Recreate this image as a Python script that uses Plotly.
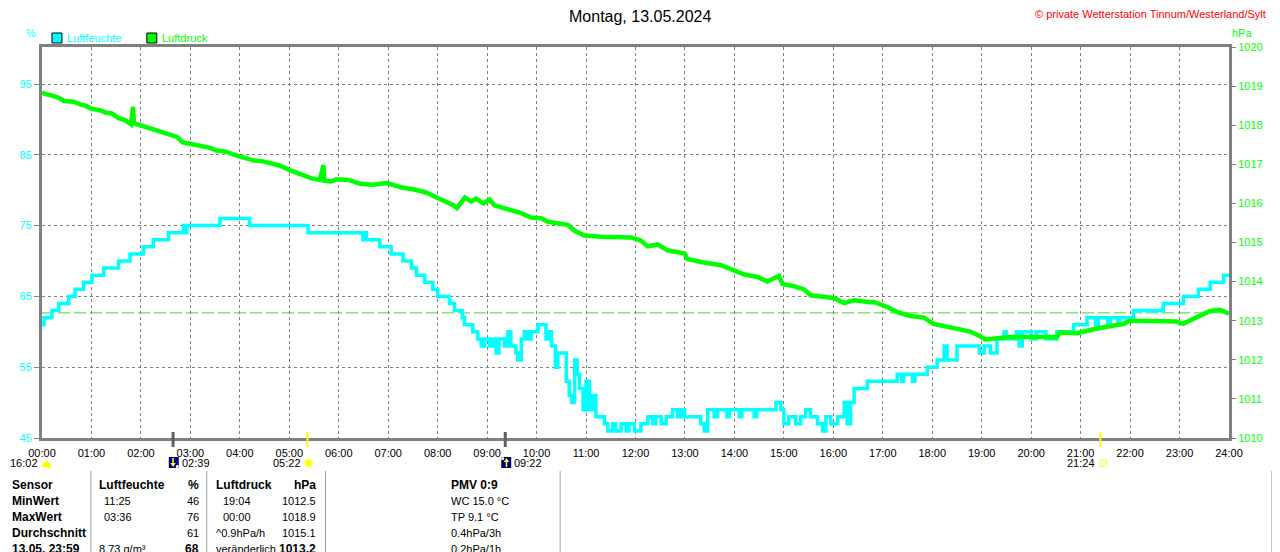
import plotly.graph_objects as go

# Luftfeuchte (%) - Zeit in Stunden, Treppenwerte
feuchte_zeit = [0.00, 0.04, 0.20, 0.34, 0.54, 0.67, 0.84, 1.01, 1.25, 1.55, 1.78, 2.05, 2.25, 2.56,
                2.86, 2.89, 2.93, 3.60, 4.20, 5.38, 6.49, 6.52, 6.56, 6.83, 7.06, 7.30, 7.47, 7.57,
                7.74, 7.90, 8.00, 8.24, 8.34, 8.50, 8.54, 8.71, 8.81, 8.88, 8.95, 9.05, 9.12, 9.18,
                9.24, 9.35, 9.42, 9.48, 9.58, 9.62, 9.69, 9.75, 9.82, 9.89, 10.03, 10.19, 10.26,
                10.30, 10.38, 10.43, 10.60, 10.66, 10.71, 10.77, 10.82, 10.87, 10.94, 11.00, 11.07,
                11.14, 11.20, 11.37, 11.44, 11.54, 11.60, 11.71, 11.81, 11.87, 11.98, 12.11, 12.25,
                12.35, 12.41, 12.52, 12.62, 12.75, 12.85, 12.92, 12.99, 13.32, 13.39, 13.46, 13.59,
                13.66, 13.85, 13.90, 14.10, 14.15, 14.40, 14.45, 14.84, 14.94, 15.00, 15.10, 15.24,
                15.34, 15.44, 15.54, 15.68, 15.78, 15.85, 15.95, 16.09, 16.22, 16.28, 16.35, 16.42,
                16.69, 17.29, 17.38, 17.42, 17.60, 17.65, 17.90, 18.10, 18.24, 18.30, 18.50, 18.95,
                19.05, 19.18, 19.31, 19.45, 19.50, 19.70, 19.76, 19.82, 20.00, 20.10, 20.30, 20.52,
                20.86, 21.13, 21.30, 21.36, 21.55, 21.60, 21.75, 21.80, 22.07, 22.67, 23.08, 23.38,
                23.62, 23.89, 24.00]
feuchte_wert = [61, 62, 63, 64, 65, 66, 67, 68, 69, 70, 71, 72, 73, 74,
                75, 74, 75, 76, 75, 74, 73, 74, 73, 72, 71, 70, 69, 68,
                67, 66, 65, 64, 63, 62, 61, 60, 59, 58, 59, 58, 59, 57,
                59, 58, 60, 58, 57, 56, 59, 60, 59, 60, 61, 59, 60,
                58, 55, 57, 53, 51, 50, 56, 54, 52, 49, 53, 49,
                51, 48, 47, 46, 47, 46, 47, 46, 47, 46, 47, 48,
                47, 48, 47, 48, 49, 48, 49, 48, 47, 46, 49, 48,
                49, 48, 49, 48, 49, 48, 49, 50, 49, 47, 48, 47,
                48, 49, 48, 47, 46, 48, 47, 48, 50, 47, 50, 52,
                53, 54, 53, 54, 53, 54, 55, 56, 58, 56, 58, 57,
                58, 57, 59, 60, 59, 60, 58, 60, 59, 60, 59, 60,
                61, 62, 61, 62, 61, 62, 61, 62, 63, 64, 65, 66,
                67, 68, 68]

# Luftdruck (hPa)
druck_zeit = [0.00, 0.05, 0.17, 0.34, 0.45, 0.64, 0.80, 0.88, 1.00, 1.18, 1.30, 1.41, 1.55, 1.68,
              1.80, 1.84, 1.86, 1.98, 2.15, 2.25, 2.40, 2.55, 2.73, 2.85, 2.99, 3.10, 3.26, 3.40,
              3.53, 3.70, 3.94, 4.10, 4.27, 4.45, 4.61, 4.80, 5.01, 5.15, 5.28, 5.45, 5.62, 5.69,
              5.71, 5.85, 5.95, 6.20, 6.43, 6.70, 6.96, 7.15, 7.30, 7.50, 7.77, 8.00, 8.15, 8.31,
              8.39, 8.55, 8.68, 8.78, 8.92, 9.05, 9.15, 9.42, 9.69, 9.89, 10.09, 10.23, 10.63,
              10.77, 10.97, 11.30, 11.91, 12.11, 12.25, 12.45, 12.65, 12.99, 13.05, 13.32, 13.73,
              13.93, 14.20, 14.47, 14.67, 14.90, 14.97, 15.21, 15.41, 15.54, 16.01, 16.22, 16.42,
              16.75, 16.82, 17.09, 17.29, 17.56, 17.83, 18.03, 18.44, 18.77, 18.97, 19.07, 19.58,
              20.52, 20.59, 20.93, 21.33, 21.87, 22.00, 22.34, 22.94, 23.07, 23.35, 23.62, 23.82,
              24.00]
druck_wert = [1018.85, 1018.80, 1018.77, 1018.70, 1018.62, 1018.60, 1018.52, 1018.50, 1018.42,
              1018.38, 1018.32, 1018.30, 1018.18, 1018.13, 1018.02, 1018.47, 1018.05, 1018.00,
              1017.95, 1017.90, 1017.83, 1017.78, 1017.70, 1017.56, 1017.53, 1017.50, 1017.45,
              1017.42, 1017.35, 1017.33, 1017.22, 1017.15, 1017.10, 1017.08, 1017.02, 1016.97,
              1016.85, 1016.78, 1016.72, 1016.64, 1016.60, 1016.98, 1016.58, 1016.56, 1016.62,
              1016.60, 1016.50, 1016.48, 1016.52, 1016.44, 1016.40, 1016.36, 1016.28, 1016.14,
              1016.05, 1015.96, 1015.88, 1016.15, 1016.05, 1016.12, 1016.00, 1016.10, 1015.95,
              1015.85, 1015.75, 1015.64, 1015.62, 1015.53, 1015.45, 1015.30, 1015.18, 1015.15,
              1015.13, 1015.05, 1014.90, 1014.95, 1014.80, 1014.72, 1014.58, 1014.50, 1014.42,
              1014.32, 1014.18, 1014.12, 1014.00, 1014.15, 1013.94, 1013.88, 1013.80, 1013.65,
              1013.58, 1013.45, 1013.52, 1013.47, 1013.48, 1013.35, 1013.22, 1013.12, 1013.08,
              1012.92, 1012.82, 1012.72, 1012.60, 1012.52, 1012.58, 1012.58, 1012.70, 1012.68,
              1012.80, 1012.92, 1013.00, 1013.00, 1012.98, 1012.92, 1013.08, 1013.25, 1013.28,
              1013.18]
druck_aktuell = 1013.2

stunden = list(range(25))
stunden_text = ["%02d:00" % h for h in stunden]
feuchte_ticks = [45, 55, 65, 75, 85, 95]
druck_ticks = list(range(1010, 1021))

# Sonne/Mond: Zeit in Stunden, Farbe der Marke
ereignis_zeit = [2 + 39 / 60, 5 + 22 / 60, 9 + 22 / 60, 21 + 24 / 60]
ereignis_farbe = ["#606060", "#FFFF00", "#606060", "#FFFF00"]

# Tabelle unten
tab_sensor = ["Sensor", "MinWert", "MaxWert", "Durchschnitt", "13.05. 23:59"]
tab_f_zeit = ["Luftfeuchte", "11:25", "03:36", "", "8.73 g/m³"]
tab_f_wert = ["%", "46", "76", "61", "68"]
tab_d_zeit = ["Luftdruck", "19:04", "00:00", "^0.9hPa/h", "veränderlich"]
tab_d_wert = ["hPa", "1012.5", "1018.9", "1015.1", "1013.2"]
tab_pmv = ["PMV 0:9", "WC 15.0 °C", "TP 9.1 °C", "0.4hPa/3h", "0.2hPa/1h"]

# die Seite hat 8px Rand, daher Figur um 8px kleiner
RAND = 8
W, H = 1280 - RAND, 552 - RAND
L, R, T, B = 40, 1229, 47, 438   # Plotfläche in Seitenpixeln
FONT = "Liberation Sans"
GRAU = "#808080"


def px(x):
    return (x - L) / (R - L)


def py(y):
    return (B - y) / (B - T)


fig = go.Figure()

fig.add_trace(go.Scatter(x=druck_zeit, y=druck_wert, yaxis="y2", mode="lines",
                         line=dict(color="#00FF00", width=4.5), name="Luftdruck"))
fig.add_trace(go.Scatter(x=feuchte_zeit, y=feuchte_wert, mode="lines",
                         line=dict(color="#00FFFF", width=3.5, shape="hv"), name="Luftfeuchte"))

shapes = []
# aktueller Luftdruck
shapes.append(dict(type="line", xref="paper", yref="y2", x0=0, x1=1, y0=druck_aktuell, y1=druck_aktuell,
                   line=dict(color="#33DD33", width=1, dash="12px,4px"), layer="below"))
# Sonne/Mond Marken
for t, c in zip(ereignis_zeit, ereignis_farbe):
    shapes.append(dict(type="line", xref="x", yref="paper", x0=t, x1=t, y0=py(432), y1=py(447),
                       line=dict(color=c, width=3 if c != "#FFFF00" else 2)))


def pfad(punkte):
    return "M " + " L ".join("%f,%f" % (px(a), py(b)) for a, b in punkte) + " Z"


# Icons unter der Achse
shapes.append(dict(type="path", xref="paper", yref="paper",
                   path="M %f,%f Q %f,%f %f,%f Z" % (px(40), py(467), px(44.5), py(455), px(49), py(467)),
                   fillcolor="#FFFF00", line=dict(color="#FFFF00", width=1)))
for x0 in [167, 500]:
    shapes.append(dict(type="rect", xref="paper", yref="paper", x0=px(x0), x1=px(x0 + 10),
                       y0=py(468), y1=py(457), fillcolor="#000080", line=dict(width=0)))
# Mond untergang (Pfeil runter) / aufgang (Pfeil hoch)
shapes.append(dict(type="path", xref="paper", yref="paper",
                   path=pfad([(170.5, 458), (172, 458), (172, 463), (174, 463), (171.3, 467), (168.5, 463), (170.5, 463)]),
                   fillcolor="#FFFF00", line=dict(width=0)))
shapes.append(dict(type="circle", xref="paper", yref="paper", x0=px(174), x1=px(177), y0=py(468), y1=py(465),
                   fillcolor="white", line=dict(width=0)))
shapes.append(dict(type="path", xref="paper", yref="paper",
                   path=pfad([(504.5, 467), (506, 467), (506, 462), (508, 462), (505.3, 458), (502.5, 462), (504.5, 462)]),
                   fillcolor="#FFFF00", line=dict(width=0)))
shapes.append(dict(type="circle", xref="paper", yref="paper", x0=px(500), x1=px(503), y0=py(460), y1=py(457),
                   fillcolor="white", line=dict(width=0)))
shapes.append(dict(type="circle", xref="paper", yref="paper", x0=px(303), x1=px(311), y0=py(467), y1=py(459),
                   fillcolor="#FFFF00", line=dict(color="#FFFF99", width=2)))
shapes.append(dict(type="rect", xref="paper", yref="paper", x0=px(1100), x1=px(1106), y0=py(466), y1=py(460),
                   line=dict(color="#FFFF00", width=1)))

# Legende
for x0, c in [(50, "#00FFFF"), (145, "#00FF00")]:
    shapes.append(dict(type="rect", xref="paper", yref="paper", x0=px(x0), x1=px(x0 + 10),
                       y0=py(43), y1=py(33), fillcolor=c, line=dict(color="black", width=1)))

# Tabellen-Trennlinien
for x0 in [89, 205, 324, 559, 1272]:
    shapes.append(dict(type="line", xref="paper", yref="paper", x0=px(x0), x1=px(x0),
                       y0=py(471), y1=py(552), line=dict(color="#A0A0A0", width=1)))

# Rest des Nachbardiagramms am rechten Rand
shapes.append(dict(type="line", xref="paper", yref="paper", x0=px(1272), x1=px(1281),
                   y0=py(47), y1=py(47), line=dict(color=GRAU, width=3)))
for y0 in [117, 256, 393, 533]:
    shapes.append(dict(type="line", xref="paper", yref="paper", x0=px(1275), x1=px(1280),
                       y0=py(y0), y1=py(y0), line=dict(color=GRAU, width=1, dash="2px,2px")))
shapes.append(dict(type="path", xref="paper", yref="paper",
                   path=pfad([(1273, 543), (1276.5, 534), (1280, 543)]),
                   fillcolor="#00FF00", line=dict(color="#00FF00", width=1)))

ann = []


def text(x, y, s, color="black", size=11, anchor="left", bold=False):
    if bold:
        s = "<b>%s</b>" % s
        size = 12
    ann.append(dict(xref="paper", yref="paper", x=px(x), y=py(y), text=s, showarrow=False,
                    xanchor=anchor, yanchor="middle", font=dict(family=FONT, size=size, color=color)))


text(639, 16, "Montag, 13.05.2024", size=16, anchor="center")
text(1268, 14, "© private Wetterstation Tinnum/Westerland/Sylt", color="#FF0000", anchor="right")
text(22, 33, "%", color="#00FFFF")
text(1230, 33, "hPa", color="#00FF00")
text(63, 38, "Luftfeuchte", color="#00FFFF")
text(158, 38, "Luftdruck", color="#00FF00")

text(38, 463, "16:02", anchor="right")
text(178, 463, "02:39")
text(301, 463, "05:22", anchor="right")
text(511, 463, "09:22")
text(1097, 463, "21:24", anchor="right")

zeilen_y = [485, 501, 517, 533, 549]
for i, y in enumerate(zeilen_y):
    fett = i == 0
    text(8, y, tab_sensor[i], bold=True)
    text(95 if i in (0, 4) else 100, y, tab_f_zeit[i], bold=fett)
    text(199, y, tab_f_wert[i], anchor="right", bold=fett or i == 4)
    text(212 if i in (0, 3, 4) else 219, y, tab_d_zeit[i], bold=fett)
    text(316, y, tab_d_wert[i], anchor="right", bold=fett or i == 4)
    text(448, y, tab_pmv[i], bold=fett)

fig.update_layout(
    width=W, height=H,
    margin=dict(l=L - RAND, r=W - (R - RAND), t=T - RAND, b=H - (B - RAND), pad=0),
    paper_bgcolor="white", plot_bgcolor="white",
    showlegend=False,
    shapes=shapes, annotations=ann,
    font=dict(family=FONT, size=11, color="black"),
    xaxis=dict(range=[0, 24], tickvals=stunden, ticktext=stunden_text,
               showgrid=True, gridcolor=GRAU, gridwidth=1, griddash="3px,3px",
               showline=True, mirror=True, linecolor=GRAU, linewidth=3,
               ticks="outside", ticklen=3, tickcolor="rgba(0,0,0,0)",
               tickfont=dict(family=FONT, size=11, color="black"), zeroline=False),
    yaxis=dict(range=[45, 45 + (B - T) / 7.08], tickvals=feuchte_ticks,
               showgrid=True, gridcolor=GRAU, gridwidth=1, griddash="3px,3px",
               showline=True, mirror=True, linecolor=GRAU, linewidth=3,
               ticks="outside", ticklen=5, tickcolor=GRAU,
               tickfont=dict(family=FONT, size=11, color="#00FFFF"), zeroline=False),
    yaxis2=dict(range=[1010, 1020], tickvals=druck_ticks, overlaying="y", side="right",
                showgrid=False, showline=False, ticks="outside", ticklen=6, tickcolor=GRAU,
                tickfont=dict(family=FONT, size=11, color="#00FF00"), zeroline=False),
)

fig.write_html("out.html")
